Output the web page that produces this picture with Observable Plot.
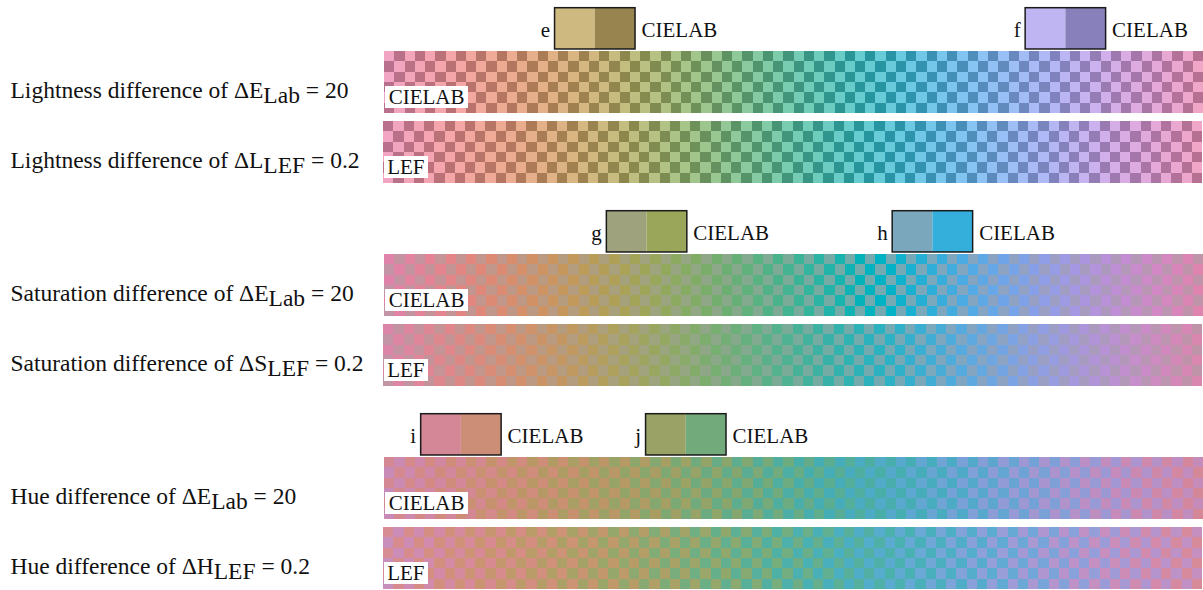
<!DOCTYPE html>
<html><head><meta charset="utf-8">
<script src="https://cdn.jsdelivr.net/npm/d3@7"></script>
<script src="https://cdn.jsdelivr.net/npm/@observablehq/plot@0.6"></script>
<style>
body{margin:0;background:#fff;}
#fig{position:relative;width:1203px;height:590px;overflow:hidden;font-family:"Liberation Serif","Times New Roman",serif;color:#111;}
.rowlab{font-size:23.5px;line-height:26px;white-space:nowrap;}
.rowlab .sub{position:relative;top:5px;}
.tag{font-size:21px;line-height:22px;background:#fff;padding:0 3.7px;white-space:nowrap;}
</style></head><body><div id="fig"></div>
<script>
// ---- data ----
const columns = d3.range(80);          // checker columns = hue steps
const rows = d3.range(6);              // checker rows
const hueStart = -6;                   // CIELAB hue (deg) of column 0
const hueStep = 4.5;                   // 360 / 80 columns
const hues = columns.map(c => hueStart + hueStep * c);

const stripTags = ["CIELAB", "LEF", "CIELAB", "LEF", "CIELAB", "LEF"];
const rowPre  = ["Lightness difference of \u0394E", "Lightness difference of \u0394L",
                 "Saturation difference of \u0394E", "Saturation difference of \u0394S",
                 "Hue difference of \u0394E", "Hue difference of \u0394H"];
const rowSub  = ["Lab", "LEF", "Lab", "LEF", "Lab", "LEF"];
const rowPost = [" = 20", " = 0.2", " = 20", " = 0.2", " = 20", " = 0.2"];

// LCh of the two alternating colours of each strip (A = left swatch colour)
const lightA  = [76, 76, 66, 66, 65, 66];
const lightB  = [56, 56, 66, 66, 65, 66];
const chromaA = [32, 32, 20, 20, 32, 32];
const chromaB = [32, 32, 40, 37, 32, 32];
const hueOffA = [0, 0, 0, 0, -18.5, -22];
const hueOffB = [0, 0, 0, 0, 18.5, 22];
const phase   = [0, 1, 1, 1, 1, 1];     // which colour sits top-left

const swatchLetters = ["e", "f", "g", "h", "i", "j"];
const swatchStrip   = [0, 0, 2, 2, 4, 4];
const swatchCol     = [20.58, 66.55, 25.64, 53.56, 7.5, 29.47];

// ---- helpers ----
function colour(s, which, hue) {
  return which === 0
    ? d3.hcl(hue + hueOffA[s], chromaA[s], lightA[s]).formatHex()
    : d3.hcl(hue + hueOffB[s], chromaB[s], lightB[s]).formatHex();
}

const fig = document.getElementById("fig");
const GROUP_DY = 203, STRIP_W = 819.2, STRIP_H = 62, SW = 3.93;
const stripTop = s => Math.floor(s / 2) * GROUP_DY + (s % 2 === 0 ? 51 : 121);
const stripLeft = s => (s % 2 === 0 ? 384 : 382.5);

function place(el, left, top) {
  el.style.position = "absolute";
  el.style.left = left + "px";
  el.style.top = top + "px";
  fig.appendChild(el);
}

// ---- strips ----
for (let s = 0; s < 6; s++) {
  const cells = [];
  for (const c of columns) for (const r of rows) {
    const which = (c + r + phase[s]) % 2;
    cells.push({col: c, row: r, color: colour(s, which, hues[c])});
  }
  const p = Plot.plot({
    width: STRIP_W, height: STRIP_H, margin: 0,
    x: {type: "band", domain: columns, padding: 0, round: false, axis: null},
    y: {type: "band", domain: rows, padding: 0, round: false, axis: null},
    color: {type: "identity"},
    marks: [Plot.cell(cells, {x: "col", y: "row", fill: "color", shapeRendering: "crispEdges"})]
  });
  place(p, stripLeft(s), stripTop(s));

  const tag = document.createElement("div");
  tag.className = "tag";
  tag.textContent = stripTags[s];
  place(tag, stripLeft(s) + 1, stripTop(s) + 35.3);

  const lab = document.createElement("div");
  lab.className = "rowlab";
  lab.innerHTML = `${rowPre[s]}<span class="sub">${rowSub[s]}</span>${rowPost[s]}`;
  place(lab, 10.5, stripTop(s) + 26.4);
}

// ---- swatches ----
for (let g = 0; g < 3; g++) {
  const sw = swatchLetters.map((letter, i) => ({letter, i}))
    .filter(d => swatchStrip[d.i] === 2 * g)
    .map(d => {
      const s = swatchStrip[d.i];
      const hue = hueStart + hueStep * swatchCol[d.i];
      return {letter: d.letter, col: swatchCol[d.i], c1: colour(s, 0, hue), c2: colour(s, 1, hue)};
    });
  const p = Plot.plot({
    width: STRIP_W, height: 51, marginLeft: 0, marginRight: 0, marginTop: 7.7, marginBottom: 2,
    style: {fontFamily: "Liberation Serif", overflow: "visible"},
    x: {type: "linear", domain: [0, 80], axis: null},
    y: {type: "linear", domain: [0, 1], axis: null},
    color: {type: "identity"},
    marks: [
      Plot.rect(sw, {x1: d => d.col - SW, x2: d => d.col, y1: 0, y2: 1, fill: d => d.c1}),
      Plot.rect(sw, {x1: d => d.col, x2: d => d.col + SW, y1: 0, y2: 1, fill: d => d.c2}),
      Plot.rect(sw, {x1: d => d.col - SW, x2: d => d.col + SW, y1: 0, y2: 1, fill: "none", stroke: "#1a1a1a", strokeWidth: 1.5}),
      Plot.text(sw, {x: d => d.col - SW, y: 0.5, text: "letter", textAnchor: "end", dx: -5, dy: 1.3, fontSize: 21, fill: "#111"}),
      Plot.text(sw, {x: d => d.col + SW, y: 0.5, text: () => "CIELAB", textAnchor: "start", dx: 6, dy: 1.3, fontSize: 21, fill: "#111"})
    ]
  });
  place(p, 384, g * GROUP_DY);
}
</script></body></html>
